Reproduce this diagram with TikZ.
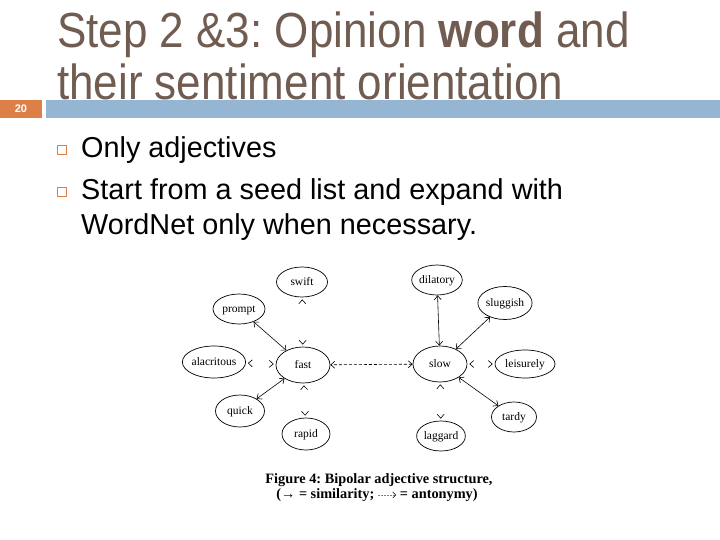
\documentclass[tikz,border=0pt]{standalone}
\usepackage{fontspec}
\setmainfont{Liberation Sans}
\newfontfamily\figserif{Liberation Serif}
\usetikzlibrary{shapes.geometric,arrows.meta}
\definecolor{titlecol}{HTML}{715C52}
\definecolor{accblue}{HTML}{94B6D2}
\definecolor{accorange}{HTML}{DD8047}
\frenchspacing
\begin{document}
\begin{tikzpicture}[x=1pt,y=-1pt,
  title/.style={anchor=base west, inner sep=0pt, text=titlecol, font=\fontsize{44}{52}\selectfont},
  bullettext/.style={anchor=base west, inner sep=0pt, font=\fontsize{28.8}{35}\selectfont},
  bulletbox/.style={draw=accorange, line width=1pt, minimum size=9pt, inner sep=0pt},
  adj/.style={ellipse, draw, line width=0.7pt, inner sep=0pt, text height=7.5pt, text depth=1.5pt,
    font=\figserif\fontsize{11.5}{13}\selectfont},
  tipb/.tip={Straight Barb[length=4pt,width=7pt]},
  sim/.style={line width=0.6pt, tipb-tipb},
  ghost/.style={draw=white, line width=0.6pt, shorten <=2pt, shorten >=2pt,
    {Straight Barb[length=4pt,width=7pt,color=black]}-{Straight Barb[length=4pt,width=7pt,color=black]}},
  ant/.style={dashed, dash pattern=on 3pt off 2pt, line width=0.6pt, tipb-tipb},
  caption/.style={inner sep=0pt, font=\figserif\bfseries\fontsize{14.3}{16}\selectfont}
]
\useasboundingbox (0,0) rectangle (720,540);
\fill[white] (0,0) rectangle (720,540);

% header bar
\fill[accorange] (0,100) rectangle (42,118);
\fill[accblue] (46,100) rectangle (720,118);
\node[text=white, font=\bfseries\fontsize{11}{12}\selectfont, inner sep=0pt] (num) at (21,109) {20};

% title
\node[title] (t1) at (57,48) {\scalebox{1}[1.12]{Step 2 \&3: Opinion \textbf{word} and}};
\node[title] (t2) at (57,100) {\scalebox{1}[1.12]{their sentiment orientation}};

% bullets
\node[bulletbox] (b1) at (62,150) {};
\node[bullettext] (l1) at (81,158) {Only adjectives};
\node[bulletbox] (b2) at (62,192) {};
\node[bullettext] (l2) at (81,200) {Start from a seed list and expand with};
\node[bullettext] (l3) at (81,234) {WordNet only when necessary.};

% figure nodes
\node[adj, minimum width=51pt, minimum height=30pt] (swift) at (302,282) {swift};
\node[adj, minimum width=52pt, minimum height=30pt] (prompt) at (239,309) {prompt};
\node[adj, minimum width=62pt, minimum height=32pt] (alacritous) at (214,362) {alacritous};
\node[adj, minimum width=54pt, minimum height=36pt] (fast) at (303,365) {fast};
\node[adj, minimum width=49pt, minimum height=32pt] (quick) at (240,411) {quick};
\node[adj, minimum width=48pt, minimum height=32pt] (rapid) at (306,434) {rapid};
\node[adj, minimum width=49pt, minimum height=30pt] (dilatory) at (437,280) {dilatory};
\node[adj, minimum width=46pt, minimum height=33pt] (sluggish) at (505,303) {sluggish};
\node[adj, minimum width=54pt, minimum height=36pt] (slow) at (440,364) {slow};
\node[adj, minimum width=60pt, minimum height=28pt] (leisurely) at (525,364) {leisurely};
\node[adj, minimum width=45pt, minimum height=30pt] (tardy) at (514,417) {tardy};
\node[adj, minimum width=46pt, minimum height=30pt] (laggard) at (441,436) {laggard};

% connectors
\draw[sim] (prompt) -- (fast);
\draw[sim] (quick) -- (fast);
\draw[sim] (dilatory) -- (slow);
\draw[sim] (sluggish) -- (slow);
\draw[sim] (tardy) -- (slow);
\draw[ant] (slow) -- (fast);
\draw[ghost] (swift) -- (fast);
\draw[ghost] (alacritous) -- (fast);
\draw[ghost] (rapid) -- (fast);
\draw[ghost] (leisurely) -- (slow);
\draw[ghost] (laggard) -- (slow);

% caption
\node[caption] (cap1) at (379,480) {Figure 4: Bipolar adjective structure,};
\node[caption] (cap2) at (377,495) {(→ = similarity; \tikz[x=1pt,y=1pt,baseline=0pt]\draw[gray, dashed, dash pattern=on 2pt off 1pt, line width=0.5pt, -{Straight Barb[length=3pt,width=6pt,color=black]}] (0pt,3.5pt) -- (18pt,3.5pt); = antonymy)};
\end{tikzpicture}
\end{document}
